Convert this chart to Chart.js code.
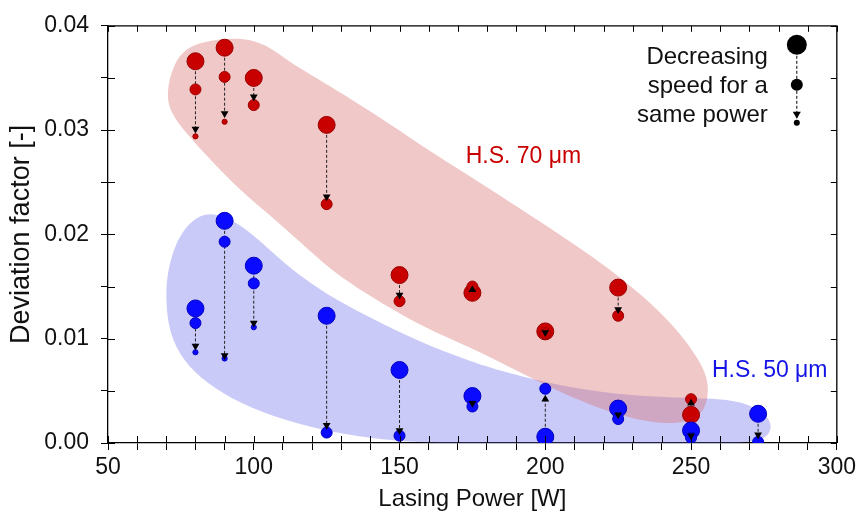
<!DOCTYPE html>
<html>
<head>
<meta charset="utf-8">
<script src="https://cdn.jsdelivr.net/npm/chart.js@4/dist/chart.umd.min.js"></script>
<style>
  html, body { margin: 0; padding: 0; background: #ffffff; }
  #wrap { width: 860px; height: 520px; }
</style>
</head>
<body>
<div id="wrap"><canvas id="c" width="860" height="520"></canvas></div>
<script>
// ---------------- DATA ----------------
// H.S. 70 µm (red)
const power70 = [80, 90, 100, 125, 150, 175, 200, 225, 250];
const fast70  = [0.0366, 0.0379, 0.0350, 0.0305, 0.0161, 0.0144, 0.0107, 0.0149, 0.0027];
const mid70   = [0.0339, 0.0351, 0.0324, 0.0229, 0.0136, 0.0150, 0.0105, 0.0122, 0.0042];
const slow70  = [0.0294, 0.0308, null, null, null, null, null, null, null];
const arrow70 = [0.0301, 0.0316, 0.0332, 0.0236, 0.0142, 0.0147, 0.0106, 0.0128, 0.0038];

// H.S. 50 µm (blue)
const power50 = [80, 90, 100, 125, 150, 175, 200, 225, 250, 273];
const fast50  = [0.0129, 0.0213, 0.0170, 0.0122, 0.0070, 0.0045, 0.0006, 0.0033, 0.0012, 0.0028];
const mid50   = [0.0115, 0.0193, 0.0153, 0.0010, 0.0007, 0.0035, 0.0052, 0.0023, 0.0005, 0.0001];
const slow50  = [0.0087, 0.0081, 0.0111, null, null, null, null, null, null, null];
const arrow50 = [0.0093, 0.0084, 0.0115, 0.0017, 0.0012, 0.0038, 0.0042, 0.0027, 0.0007, 0.0008];

// Shaded regions (outline in data units)
const region70X = [70.0, 73.0, 79.0, 95.2, 104.5, 111.3, 120.2, 133.9, 150.0, 161.3, 177.4, 194.5, 217.5, 234.6, 245.9, 253.0, 256.5, 255.0, 249.3, 240.1, 228.8, 217.5, 205.8, 194.5, 177.4, 161.3, 150.0, 138.7, 127.1, 115.8, 104.5, 96.2, 84.9, 77.1, 71.0];
const region70Y = [0.0338, 0.0368, 0.0384, 0.0390, 0.0382, 0.0367, 0.0352, 0.0329, 0.0300, 0.0278, 0.0250, 0.0219, 0.0177, 0.0139, 0.0107, 0.0079, 0.0057, 0.0030, 0.0020, 0.0018, 0.0024, 0.0034, 0.0048, 0.0063, 0.0088, 0.0107, 0.0124, 0.0143, 0.0164, 0.0193, 0.0221, 0.0240, 0.0272, 0.0296, 0.0318];
const region50X = [84.9, 92.8, 101.0, 108.9, 117.5, 127.1, 138.7, 150.0, 161.3, 172.9, 183.2, 205.8, 228.8, 251.7, 263.0, 272.3, 277.5, 277.5, 273.3, 252.7, 218.5, 184.2, 161.3, 144.2, 127.1, 109.9, 95.2, 83.9, 75.7, 71.0, 69.8, 70.2, 73.0, 78.5];
const region50Y = [0.0222, 0.0214, 0.0197, 0.0176, 0.0157, 0.0139, 0.0122, 0.0106, 0.0092, 0.0080, 0.0070, 0.0054, 0.0045, 0.0043, 0.0042, 0.0035, 0.0022, 0.0010, 0.0000, -0.0002, -0.0002, -0.0002, 0.0000, 0.0003, 0.0010, 0.0022, 0.0038, 0.0057, 0.0079, 0.0105, 0.0136, 0.0162, 0.0192, 0.0214];

// Text labels
const groupLabels = ['H.S. 70 μm', 'H.S. 50 μm'];
const groupLabelX = [192.5, 277];
const groupLabelY = [0.0275, 0.0069];
const legendLines = ['Decreasing', 'speed for a', 'same power'];

const xTitle = 'Lasing Power [W]';
const yTitle = 'Deviation factor [-]';

// ---------------- STYLES ----------------
const RED = '#c80000', RED_EDGE = '#9a0000';
const BLUE = '#0a0aff', BLUE_EDGE = '#0000c0';
const RADII = [8.5, 5.5, 2.6];
const FONT = "'Liberation Sans', Arial, Helvetica, sans-serif";

function buildPoints(pw, a, b, c) {
  const out = [];
  pw.forEach((p, i) => {
    out.push({x: p, y: a[i], level: 0});
    if (b[i] !== null) out.push({x: p, y: b[i], level: 1});
    if (c[i] !== null) out.push({x: p, y: c[i], level: 2});
  });
  return out;
}
function buildLines(pw, a, arr) {
  const out = [];
  pw.forEach((p, i) => {
    out.push({x: p, y: a[i]});
    out.push({x: p, y: arr[i]});
    out.push({x: p, y: null});
  });
  return out;
}
function buildArrows(pw, a, b, c, arr) {
  return pw.map((p, i) => {
    const last = c[i] !== null ? c[i] : b[i];
    return {x: p, y: arr[i], up: last > a[i]};
  });
}

const regionPlugin = {
  id: 'regions',
  beforeDatasetsDraw(chart) {
    const {ctx, chartArea, scales: {x, y}} = chart;
    const regions = [
      {xs: region50X, ys: region50Y, color: 'rgba(95,95,235,0.33)'},
      {xs: region70X, ys: region70Y, color: 'rgba(215,110,110,0.38)'}
    ];
    ctx.save();
    ctx.beginPath();
    ctx.rect(chartArea.left, chartArea.top, chartArea.right - chartArea.left, chartArea.bottom - chartArea.top);
    ctx.clip();
    regions.forEach(r => {
      const P = r.xs.map((v, i) => [x.getPixelForValue(v), y.getPixelForValue(r.ys[i])]);
      const n = P.length;
      const g = k => P[((k % n) + n) % n];
      // closed uniform cubic B-spline
      ctx.beginPath();
      for (let i = 0; i < n; i++) {
        const p0 = g(i - 1), p1 = g(i), p2 = g(i + 1), p3 = g(i + 2);
        const sx = (p0[0] + 4 * p1[0] + p2[0]) / 6, sy = (p0[1] + 4 * p1[1] + p2[1]) / 6;
        const c1x = (2 * p1[0] + p2[0]) / 3, c1y = (2 * p1[1] + p2[1]) / 3;
        const c2x = (p1[0] + 2 * p2[0]) / 3, c2y = (p1[1] + 2 * p2[1]) / 3;
        const ex = (p1[0] + 4 * p2[0] + p3[0]) / 6, ey = (p1[1] + 4 * p2[1] + p3[1]) / 6;
        if (i === 0) ctx.moveTo(sx, sy);
        ctx.bezierCurveTo(c1x, c1y, c2x, c2y, ex, ey);
      }
      ctx.closePath();
      ctx.fillStyle = r.color;
      ctx.fill();
    });
    ctx.restore();
  }
};

const framePlugin = {
  id: 'frame',
  afterDraw(chart) {
    const {ctx, chartArea: a, scales: {x, y}} = chart;
    ctx.save();
    ctx.strokeStyle = '#000';
    ctx.lineWidth = 1.3;
    ctx.beginPath();
    ctx.moveTo(a.left, a.top); ctx.lineTo(a.right, a.top); ctx.lineTo(a.right, a.bottom);
    ctx.stroke();
    ctx.lineWidth = 1;
    ctx.beginPath();
    x.ticks.forEach(t => {
      const px = Math.round(x.getPixelForValue(t.value)) + 0.5;
      ctx.moveTo(px, a.bottom); ctx.lineTo(px, a.bottom - 7);
      ctx.moveTo(px, a.top); ctx.lineTo(px, a.top + 6);
    });
    y.ticks.forEach(t => {
      const py = Math.round(y.getPixelForValue(t.value)) + 0.5;
      ctx.moveTo(a.left, py); ctx.lineTo(a.left + 7, py);
      ctx.moveTo(a.right, py); ctx.lineTo(a.right - 6, py);
    });
    ctx.stroke();
    ctx.restore();
  }
};

const textPlugin = {
  id: 'texts',
  afterDatasetsDraw(chart) {
    const {ctx, chartArea: a, scales: {x, y}} = chart;
    ctx.save();
    ctx.font = '23px ' + FONT;
    ctx.textAlign = 'center';
    ctx.textBaseline = 'middle';
    const cols = [RED, '#1414e6'];
    groupLabels.forEach((t, i) => {
      ctx.fillStyle = cols[i];
      ctx.fillText(t, x.getPixelForValue(groupLabelX[i]), y.getPixelForValue(groupLabelY[i]));
    });
    // key: "Decreasing speed for a same power"
    ctx.fillStyle = '#111';
    ctx.textAlign = 'right';
    ctx.font = '24px ' + FONT;
    legendLines.forEach((t, i) => {
      ctx.fillText(t, a.right - 69, a.top + 32 + i * 29);
    });
    const kx = a.right - 40;
    ctx.strokeStyle = '#000';
    ctx.lineWidth = 1;
    ctx.setLineDash([3, 2]);
    ctx.beginPath();
    ctx.moveTo(kx, a.top + 20); ctx.lineTo(kx, a.top + 92);
    ctx.stroke();
    ctx.setLineDash([]);
    ctx.fillStyle = '#000';
    [[a.top + 19, 10], [a.top + 59, 6], [a.top + 97, 3]].forEach(([cy, r]) => {
      ctx.beginPath(); ctx.arc(kx, cy, r, 0, Math.PI * 2); ctx.fill();
    });
    ctx.beginPath();
    ctx.moveTo(kx - 4, a.top + 86); ctx.lineTo(kx + 4, a.top + 86); ctx.lineTo(kx, a.top + 93);
    ctx.closePath(); ctx.fill();
    ctx.restore();
  }
};

const lineStyle = {
  type: 'scatter', showLine: true, spanGaps: false, pointRadius: 0,
  borderColor: '#222', borderWidth: 1, borderDash: [3, 2], order: 3
};

new Chart(document.getElementById('c'), {
  type: 'scatter',
  data: {
    datasets: [
      Object.assign({label: 'l70', data: buildLines(power70, fast70, arrow70)}, lineStyle),
      Object.assign({label: 'l50', data: buildLines(power50, fast50, arrow50)}, lineStyle),
      {
        label: 'H.S. 70 μm', data: buildPoints(power70, fast70, mid70, slow70),
        backgroundColor: RED, borderColor: RED_EDGE, borderWidth: 1,
        pointRadius: c => RADII[c.raw.level], order: 2
      },
      {
        label: 'H.S. 50 μm', data: buildPoints(power50, fast50, mid50, slow50),
        backgroundColor: BLUE, borderColor: BLUE_EDGE, borderWidth: 1,
        pointRadius: c => RADII[c.raw.level], order: 1
      },
      {
        label: 'a70', data: buildArrows(power70, fast70, mid70, slow70, arrow70),
        pointStyle: 'triangle', pointRadius: 4.5, backgroundColor: '#000', borderColor: '#000', borderWidth: 0,
        rotation: c => (c.raw && c.raw.up) ? 0 : 180, order: 0
      },
      {
        label: 'a50', data: buildArrows(power50, fast50, mid50, slow50, arrow50),
        pointStyle: 'triangle', pointRadius: 4.5, backgroundColor: '#000', borderColor: '#000', borderWidth: 0,
        rotation: c => (c.raw && c.raw.up) ? 0 : 180, order: 0
      }
    ]
  },
  options: {
    responsive: false,
    animation: false,
    layout: {padding: {top: 22, right: 22, left: 0, bottom: 0}},
    plugins: {legend: {display: false}, tooltip: {enabled: false}},
    scales: {
      x: {
        type: 'linear', min: 50, max: 300,
        afterFit: s => { s.height = 77; },
        ticks: {
          stepSize: 10, autoSkip: false, maxRotation: 0, padding: 4,
          color: '#111', font: {family: FONT, size: 23},
          callback: v => (v % 50 === 0 ? String(v) : '')
        },
        grid: {drawOnChartArea: false, drawTicks: true, tickLength: 7, color: '#000', lineWidth: 1},
        border: {display: true, color: '#000', width: 1.3},
        title: {display: true, text: xTitle, color: '#111', font: {family: FONT, size: 24}, padding: {top: 0, bottom: 6}}
      },
      y: {
        type: 'linear', min: 0, max: 0.04,
        afterFit: s => { s.width = 108; },
        ticks: {
          stepSize: 0.005, autoSkip: false, padding: 12,
          color: '#111', font: {family: FONT, size: 23},
          callback: v => (Math.abs(v * 100 - Math.round(v * 100)) < 1e-6 ? v.toFixed(2) : '')
        },
        grid: {drawOnChartArea: false, drawTicks: true, tickLength: 7, color: '#000', lineWidth: 1},
        border: {display: true, color: '#000', width: 1.3},
        title: {display: true, text: yTitle, color: '#111', font: {family: FONT, size: 27}, padding: {top: 5, bottom: 0}}
      }
    }
  },
  plugins: [regionPlugin, framePlugin, textPlugin]
});
</script>
</body>
</html>
